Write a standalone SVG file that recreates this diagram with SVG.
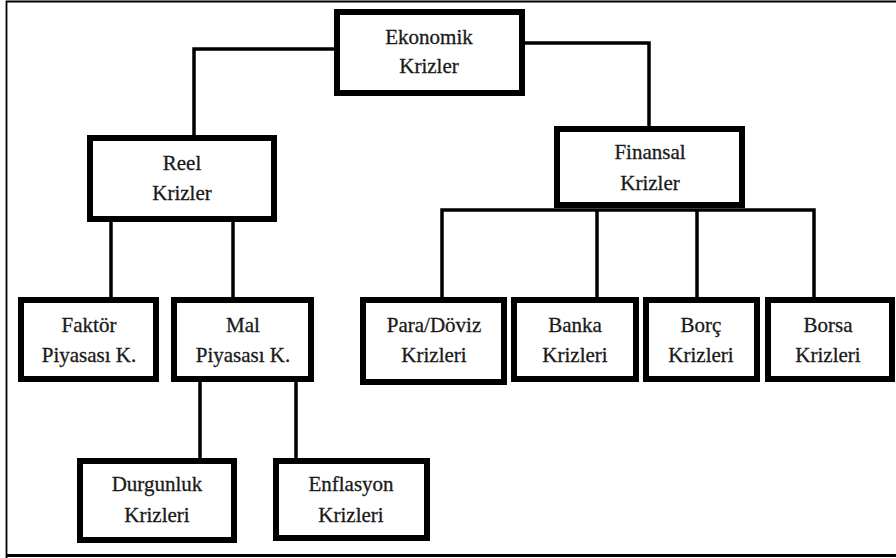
<svg xmlns="http://www.w3.org/2000/svg" width="896" height="558" viewBox="0 0 896 558">
<style>
.box{fill:#fff;stroke:#000;stroke-width:6}
.t{font-family:"Liberation Serif","DejaVu Serif","Times New Roman",serif;font-size:21px;fill:#1a1a1a;stroke:#1a1a1a;stroke-width:0.3;text-anchor:middle}
.c{fill:none;stroke:#000;stroke-width:3.5}
.frame{fill:none;stroke:#000}
</style>
<rect x="0" y="0" width="896" height="558" fill="#fff"/>
<g id="frame">
<path class="frame" d="M6.5,558 V1.5 H896" stroke-width="1.8"/>
<path class="frame" d="M6,555.5 H896" stroke-width="3"/>
</g>
<g id="connectors">
<path class="c" d="M336,49 H194 V137"/>
<path class="c" d="M523,43 H649 V128"/>
<path class="c" d="M111,222 V299"/>
<path class="c" d="M233,222 V299"/>
<path class="c" d="M442,299 V210 H814 V299"/>
<path class="c" d="M597,210 V299"/>
<path class="c" d="M697,210 V299"/>
<path class="c" d="M200,382 V460"/>
<path class="c" d="M296,382 V460"/>
</g>
<g id="ekonomik">
<rect class="box" x="337" y="12" width="185" height="81"/>
<text class="t" x="429" y="44">Ekonomik</text>
<text class="t" x="429" y="73">Krizler</text>
</g>
<g id="reel">
<rect class="box" x="90" y="138" width="184" height="81"/>
<text class="t" x="182" y="170">Reel</text>
<text class="t" x="182" y="200">Krizler</text>
</g>
<g id="finansal">
<rect class="box" x="557" y="129" width="185" height="76"/>
<text class="t" x="650" y="159">Finansal</text>
<text class="t" x="650" y="190">Krizler</text>
</g>
<g id="faktor">
<rect class="box" x="21" y="300" width="135" height="79"/>
<text class="t" x="89" y="332">Faktör</text>
<text class="t" x="89" y="362">Piyasası K.</text>
</g>
<g id="mal">
<rect class="box" x="174" y="300" width="137" height="79"/>
<text class="t" x="243" y="332">Mal</text>
<text class="t" x="243" y="362">Piyasası K.</text>
</g>
<g id="paradoviz">
<rect class="box" x="363" y="300" width="141" height="82"/>
<text class="t" x="434" y="332">Para/Döviz</text>
<text class="t" x="434" y="362">Krizleri</text>
</g>
<g id="banka">
<rect class="box" x="514" y="300" width="122" height="79"/>
<text class="t" x="575" y="332">Banka</text>
<text class="t" x="575" y="362">Krizleri</text>
</g>
<g id="borc">
<rect class="box" x="646" y="300" width="111" height="79"/>
<text class="t" x="701" y="332">Borç</text>
<text class="t" x="701" y="362">Krizleri</text>
</g>
<g id="borsa">
<rect class="box" x="768" y="300" width="124" height="79"/>
<text class="t" x="828" y="332">Borsa</text>
<text class="t" x="828" y="362">Krizleri</text>
</g>
<g id="durgunluk">
<rect class="box" x="80" y="461" width="154" height="79"/>
<text class="t" x="157" y="491">Durgunluk</text>
<text class="t" x="157" y="522">Krizleri</text>
</g>
<g id="enflasyon">
<rect class="box" x="276" y="461" width="151" height="77"/>
<text class="t" x="351" y="491">Enflasyon</text>
<text class="t" x="351" y="522">Krizleri</text>
</g>
</svg>
